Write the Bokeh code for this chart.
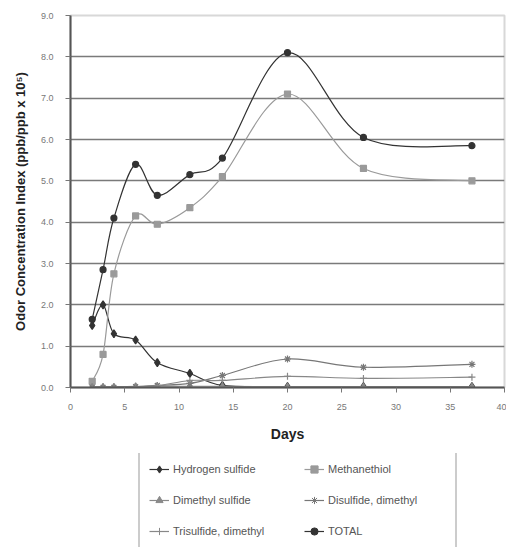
from bokeh.plotting import figure
from bokeh.layouts import column
from bokeh.models import (ColumnDataSource, Legend, LegendItem, FixedTicker,
                          NumeralTickFormatter, Range1d)
from bokeh.embed import file_html
from bokeh.resources import INLINE
import numpy as np

# ---- data ----
days = [2, 3, 4, 6, 8, 11, 14, 20, 27, 37]
hydrogen_sulfide = [1.5, 2.0, 1.3, 1.15, 0.6, 0.34, 0.05, 0.02, 0.02, 0.02]
methanethiol = [0.15, 0.8, 2.75, 4.15, 3.95, 4.35, 5.1, 7.1, 5.3, 5.0]
dimethyl_sulfide = [0.02, 0.02, 0.02, 0.03, 0.03, 0.03, 0.03, 0.02, 0.02, 0.02]
disulfide_dimethyl = [0.0, 0.0, 0.0, 0.02, 0.05, 0.1, 0.29, 0.69, 0.49, 0.56]
trisulfide_dimethyl = [0.0, 0.0, 0.0, 0.02, 0.04, 0.17, 0.17, 0.27, 0.22, 0.25]
total = [1.65, 2.85, 4.1, 5.4, 4.65, 5.15, 5.55, 8.1, 6.05, 5.85]

series_names = ["Hydrogen sulfide", "Methanethiol", "Dimethyl sulfide",
                "Disulfide, dimethyl", "Trisulfide, dimethyl", "TOTAL"]
x_ticks = [0, 5, 10, 15, 20, 25, 30, 35, 40]
y_ticks = [0, 1, 2, 3, 4, 5, 6, 7, 8, 9]

FONT = "Liberation Sans"
W = 506

p = figure(width=W, height=453, output_backend="svg", toolbar_location=None,
           x_range=Range1d(0, 40), y_range=Range1d(0, 9),
           min_border_left=70, min_border_right=2, min_border_top=15,
           min_border_bottom=66)
p.background_fill_color = "white"
p.border_fill_color = "white"
p.outline_line_color = "#d8d8d8"
p.outline_line_width = 2

# axes
p.xaxis.ticker = FixedTicker(ticks=x_ticks)
p.yaxis.ticker = FixedTicker(ticks=y_ticks)
p.yaxis.formatter = NumeralTickFormatter(format="0.0")
for ax in (p.xaxis[0], p.yaxis[0]):
    ax.major_label_text_font = FONT
    ax.major_label_text_font_size = "9px"
    ax.major_label_text_color = "#777777"
    ax.minor_tick_line_color = None
    ax.major_tick_in = 0
    ax.major_tick_out = 5
    ax.major_tick_line_color = "#777777"
    ax.axis_line_color = "#555555"
    ax.axis_line_width = 2
    ax.axis_label_text_font = FONT
    ax.axis_label_text_font_style = "bold"
    ax.axis_label_text_color = "#222222"
p.xaxis.axis_label = "Days"
p.xaxis.axis_label_text_font_size = "14px"
p.xaxis.major_label_standoff = 11
p.xaxis.axis_label_standoff = 13
p.yaxis.axis_label = "Odor Concentration Index (ppb/ppb x 10\u2075)"
p.yaxis.axis_label_text_font_size = "13px"
p.yaxis.major_label_standoff = 12
p.yaxis.axis_label_standoff = 10

p.xgrid.grid_line_color = None
p.ygrid.ticker = FixedTicker(ticks=y_ticks[1:-1])
p.ygrid.grid_line_color = "#7a7a7a"
p.ygrid.grid_line_width = 1.6


def bezier_source(xs, ys):
    xs = np.asarray(xs, float)
    ys = np.asarray(ys, float)
    n = len(xs)
    d = dict(x0=[], y0=[], x1=[], y1=[], cx0=[], cy0=[], cx1=[], cy1=[])
    for i in range(n - 1):
        i0 = max(i - 1, 0)
        i3 = min(i + 2, n - 1)
        d["x0"].append(xs[i]); d["y0"].append(ys[i])
        d["x1"].append(xs[i + 1]); d["y1"].append(ys[i + 1])
        d["cx0"].append(xs[i] + (xs[i + 1] - xs[i0]) / 6)
        d["cy0"].append(ys[i] + (ys[i + 1] - ys[i0]) / 6)
        d["cx1"].append(xs[i + 1] - (xs[i3] - xs[i]) / 6)
        d["cy1"].append(ys[i + 1] - (ys[i3] - ys[i]) / 6)
    return ColumnDataSource(d)


styles = [
    (hydrogen_sulfide, "#333333", "diamond", 8),
    (methanethiol, "#9a9a9a", "square", 6),
    (dimethyl_sulfide, "#8a8a8a", "triangle", 6),
    (disulfide_dimethyl, "#777777", "asterisk", 7),
    (trisulfide_dimethyl, "#888888", "cross", 7),
    (total, "#333333", "circle", 6),
]

# legend figure below the chart (same borders so frames stay aligned)
LEG_H = 94
pl = figure(width=W, height=LEG_H, output_backend="svg", toolbar_location=None,
            x_range=Range1d(0, 1), y_range=Range1d(0, 1),
            x_axis_location=None, y_axis_location=None,
            min_border_left=70, min_border_right=2, min_border_top=0,
            min_border_bottom=0)
pl.outline_line_color = None
pl.xgrid.grid_line_color = None
pl.ygrid.grid_line_color = None
pl.background_fill_color = "white"
pl.border_fill_color = "white"

item_map = {}
for name, (vals, col, mk, sz) in zip(series_names, styles):
    src = bezier_source(days, vals)
    p.bezier(x0="x0", y0="y0", x1="x1", y1="y1", cx0="cx0", cy0="cy0",
             cx1="cx1", cy1="cy1", source=src, line_color=col, line_width=1.2)
    p.scatter(days, vals, marker=mk, size=sz, fill_color=col,
              line_color=col, line_width=1.2)
    proxy_line = pl.line([np.nan], [np.nan], line_color=col, line_width=1.2)
    proxy_mk = pl.scatter([np.nan], [np.nan], marker=mk, size=sz - 1,
                          fill_color=col, line_color=col)
    item_map[name] = LegendItem(label=name, renderers=[proxy_line, proxy_mk])

# column-major fill -> order so rows read left to right as in the reference
order = [series_names[i] for i in (0, 2, 4, 1, 3, 5)]
legend = Legend(items=[item_map[n] for n in order], ncols=2,
                location=(68, -4),
                label_text_font=FONT, label_text_font_size="11px",
                label_text_color="#555555", glyph_width=20, glyph_height=18,
                label_height=18, label_width=118, label_standoff=4,
                spacing=13, padding=9, margin=0,
                border_line_color="#999999", border_line_width=2,
                background_fill_color="white")
pl.add_layout(legend, "center")

layout = column(p, pl, spacing=0)
open("out.html", "w").write(file_html(layout, INLINE))
